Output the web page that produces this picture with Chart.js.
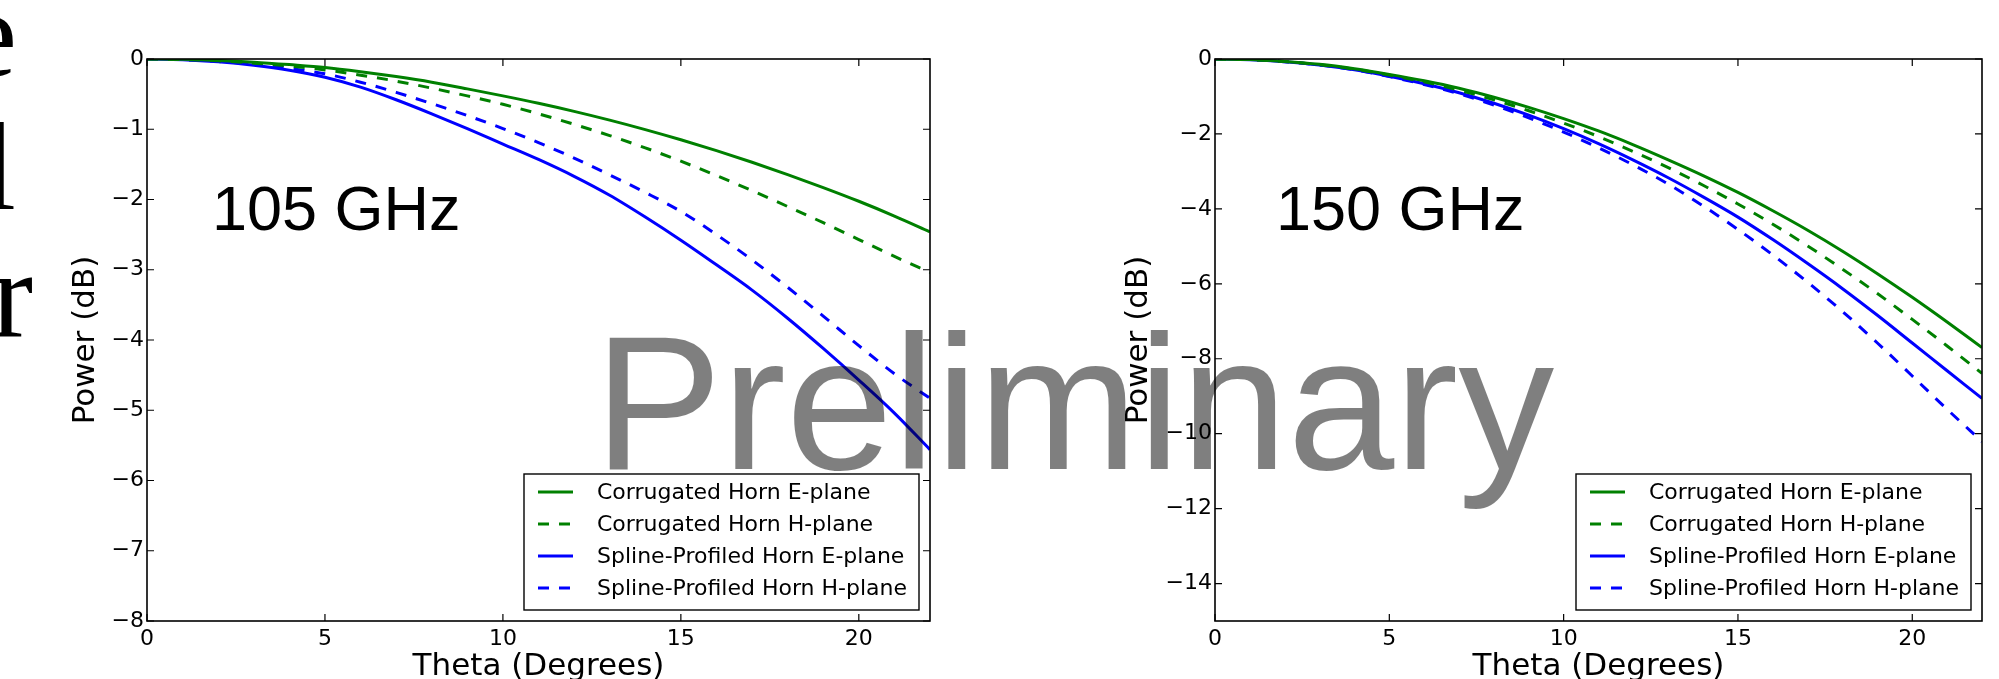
<!DOCTYPE html>
<html>
<head>
<meta charset="utf-8">
<script src="https://cdn.jsdelivr.net/npm/chart.js@4.4.1/dist/chart.umd.min.js"></script>
<style>
  html, body { margin: 0; padding: 0; background: #fff; width: 1999px; height: 679px; overflow: hidden; }
  #wrap { position: relative; width: 1999px; height: 679px; overflow: hidden; }
  canvas { position: absolute; top: 0; }
  .serif { position: absolute; font-family: "Liberation Serif", "DejaVu Serif", serif; font-size: 124px; line-height: 1; color: #000; white-space: nowrap; }
  .freq { position: absolute; font-family: "Liberation Sans", Arial, sans-serif; font-size: 63px; line-height: 1; color: #000; white-space: nowrap; }
  #prelim { position: absolute; left: 594px; top: 307px; font-family: "Liberation Sans", Arial, sans-serif; font-size: 192px; line-height: 1; color: rgba(0,0,0,0.5); white-space: nowrap; }
</style>
</head>
<body>
<div id="wrap">
  <div class="serif" style="right:1982px; top:-27px;">e</div>
  <div class="serif" style="right:1983px; top:106px;">l</div>
  <div class="serif" style="right:1966px; top:233px;">r</div>
  <canvas id="chart105" width="960" height="700" style="left:0px;"></canvas>
  <canvas id="chart150" width="999" height="700" style="left:1000px;"></canvas>
  <div class="freq" style="left:212px; top:177px;">105 GHz</div>
  <div class="freq" style="left:1276px; top:177px;">150 GHz</div>
  <div id="prelim">Preliminary</div>
</div>

<script>
// valores (Power em dB por grau de theta)
const theta = [0, 1, 2, 3, 4, 5, 6, 7, 8, 9, 10, 11, 12, 13, 14, 15, 16, 17, 18, 19, 20, 21, 22];

const seriesNames = [
    'Corrugated Horn E-plane',
    'Corrugated Horn H-plane',
    'Spline-Profiled Horn E-plane',
    'Spline-Profiled Horn H-plane'
];

// 105 GHz
const corrE105 = [0, -0.005, -0.02, -0.045, -0.08, -0.12, -0.18, -0.25, -0.33, -0.425, -0.525, -0.63, -0.745, -0.87, -1.005, -1.15, -1.305, -1.47, -1.645, -1.83, -2.025, -2.235, -2.46];
const corrH105 = [0, -0.007, -0.026, -0.06, -0.10, -0.155, -0.23, -0.315, -0.415, -0.525, -0.645, -0.78, -0.93, -1.09, -1.265, -1.455, -1.66, -1.875, -2.10, -2.33, -2.57, -2.81, -3.04];
const splE105 = [0, -0.01, -0.04, -0.09, -0.16, -0.26, -0.40, -0.58, -0.78, -0.99, -1.21, -1.43, -1.67, -1.94, -2.25, -2.58, -2.93, -3.29, -3.69, -4.12, -4.57, -5.04, -5.56];
const splH105 = [0, -0.01, -0.035, -0.075, -0.135, -0.21, -0.33, -0.475, -0.635, -0.805, -0.99, -1.19, -1.41, -1.65, -1.90, -2.17, -2.50, -2.86, -3.25, -3.66, -4.08, -4.48, -4.83];

// 150 GHz
const corrE150 = [0, -0.016, -0.064, -0.14, -0.26, -0.41, -0.58, -0.78, -1.02, -1.29, -1.59, -1.92, -2.29, -2.69, -3.11, -3.56, -4.05, -4.57, -5.13, -5.73, -6.36, -7.02, -7.70];
const corrH150 = [0, -0.017, -0.068, -0.15, -0.27, -0.43, -0.61, -0.83, -1.09, -1.38, -1.71, -2.07, -2.47, -2.90, -3.37, -3.87, -4.41, -4.99, -5.61, -6.26, -6.95, -7.66, -8.39];
const splE150 = [0, -0.018, -0.072, -0.16, -0.29, -0.46, -0.66, -0.90, -1.18, -1.50, -1.86, -2.26, -2.70, -3.17, -3.68, -4.22, -4.82, -5.46, -6.13, -6.84, -7.58, -8.32, -9.06];
const splH150 = [0, -0.018, -0.072, -0.16, -0.29, -0.47, -0.68, -0.93, -1.23, -1.57, -1.95, -2.37, -2.83, -3.34, -3.92, -4.55, -5.23, -5.96, -6.74, -7.58, -8.46, -9.35, -10.21];

// ticks
const xTicks = [0, 5, 10, 15, 20];
const yTicks105 = [0, -1, -2, -3, -4, -5, -6, -7, -8];
const yTicks150 = [0, -2, -4, -6, -8, -10, -12, -14];

const cores = ['#008000', '#008000', '#0000ff', '#0000ff'];
const tracos = [[], [11, 10], [], [11, 10]];

Chart.defaults.font.family = '"DejaVu Sans", Verdana, sans-serif';
Chart.defaults.color = '#000';


// moldura, ticks para dentro e legenda no canto inferior direito
const molduraPlugin = {
    id: 'moldura',
    afterDraw(chart) {
        const { ctx, chartArea: a, scales } = chart;
        ctx.save();

        ctx.strokeStyle = '#000';
        ctx.lineWidth = 1.2;
        ctx.beginPath();
        scales.x.ticks.forEach(t => {
            const px = scales.x.getPixelForValue(t.value);
            ctx.moveTo(px, a.bottom); ctx.lineTo(px, a.bottom - 7);
            ctx.moveTo(px, a.top); ctx.lineTo(px, a.top + 7);
        });
        scales.y.ticks.forEach(t => {
            const py = scales.y.getPixelForValue(t.value);
            ctx.moveTo(a.left, py); ctx.lineTo(a.left + 7, py);
            ctx.moveTo(a.right, py); ctx.lineTo(a.right - 7, py);
        });
        ctx.stroke();

        ctx.lineWidth = 1.6;
        ctx.strokeRect(a.left, a.top, a.right - a.left, a.bottom - a.top);

        // legenda
        const w = 395, h = 136;
        const bx = a.right - 11 - w;
        const by = a.bottom - 11 - h;
        ctx.fillStyle = '#fff';
        ctx.fillRect(bx, by, w, h);
        ctx.lineWidth = 1.4;
        ctx.strokeStyle = '#000';
        ctx.strokeRect(bx, by, w, h);

        ctx.font = '22px "DejaVu Sans", Verdana, sans-serif';
        ctx.textBaseline = 'middle';
        ctx.textAlign = 'left';
        chart.data.datasets.forEach((ds, i) => {
            const ry = by + 18 + i * 32;
            ctx.strokeStyle = ds.borderColor;
            ctx.lineWidth = ds.borderWidth;
            ctx.setLineDash(ds.borderDash);
            ctx.beginPath();
            ctx.moveTo(bx + 14, ry);
            ctx.lineTo(bx + 49, ry);
            ctx.stroke();
            ctx.setLineDash([]);
            ctx.fillStyle = '#000';
            ctx.fillText(ds.label, bx + 73, ry + 1);
        });

        ctx.restore();
    }
};


function menos(v) {
    return v < 0 ? '\u2212' + Math.abs(v) : String(v);
}

function criarGrafico(id, series, yMin, yTicks, eixoY, tituloPad, padDireita) {
    return new Chart(document.getElementById(id), {
        type: 'line',
        data: {
            datasets: series.map((serie, i) => ({
                label: seriesNames[i],
                data: theta.map((t, k) => ({ x: t, y: serie[k] })),
                borderColor: cores[i],
                borderWidth: 3,
                borderDash: tracos[i],
                pointRadius: 0,
                fill: false,
                cubicInterpolationMode: 'monotone'
            }))
        },
        options: {
            responsive: false,
            animation: false,
            layout: {
                padding: { top: 59, right: padDireita, bottom: 0, left: 0 }
            },
            plugins: {
                legend: { display: false },
                tooltip: { enabled: false }
            },
            scales: {
                x: {
                    type: 'linear',
                    min: 0,
                    max: 22,
                    afterBuildTicks: (scale) => { scale.ticks = xTicks.map(v => ({ value: v })); },
                    afterFit: (scale) => { scale.height = 79; },
                    grid: { display: false, drawTicks: false },
                    border: { display: false },
                    ticks: {
                        autoSkip: false,
                        maxRotation: 0,
                        padding: 5.5,
                        font: { size: 22 },
                        color: '#000'
                    },
                    title: {
                        display: true,
                        text: 'Theta (Degrees)',
                        font: { size: 31 },
                        color: '#000',
                        padding: { top: 0, bottom: 14 }
                    }
                },
                y: {
                    type: 'linear',
                    min: yMin,
                    max: 0,
                    afterBuildTicks: (scale) => { scale.ticks = yTicks.map(v => ({ value: v })); },
                    afterFit: (scale) => { scale.width = eixoY; },
                    grid: { display: false, drawTicks: false },
                    border: { display: false },
                    ticks: {
                        autoSkip: false,
                        padding: 3,
                        font: { size: 22 },
                        color: '#000',
                        callback: (v) => menos(v)
                    },
                    title: {
                        display: true,
                        text: 'Power (dB)',
                        font: { size: 31 },
                        color: '#000',
                        padding: { top: tituloPad, bottom: 0 }
                    }
                }
            }
        },
        plugins: [molduraPlugin]
    });
}


document.addEventListener("DOMContentLoaded", () => {
    criarGrafico('chart105', [corrE105, corrH105, splE105, splH105], -8, yTicks105, 147, 67, 30);
    criarGrafico('chart150', [corrE150, corrH150, splE150, splH150], -15, yTicks150, 215, 120, 17);
});
</script>
</body>
</html>
